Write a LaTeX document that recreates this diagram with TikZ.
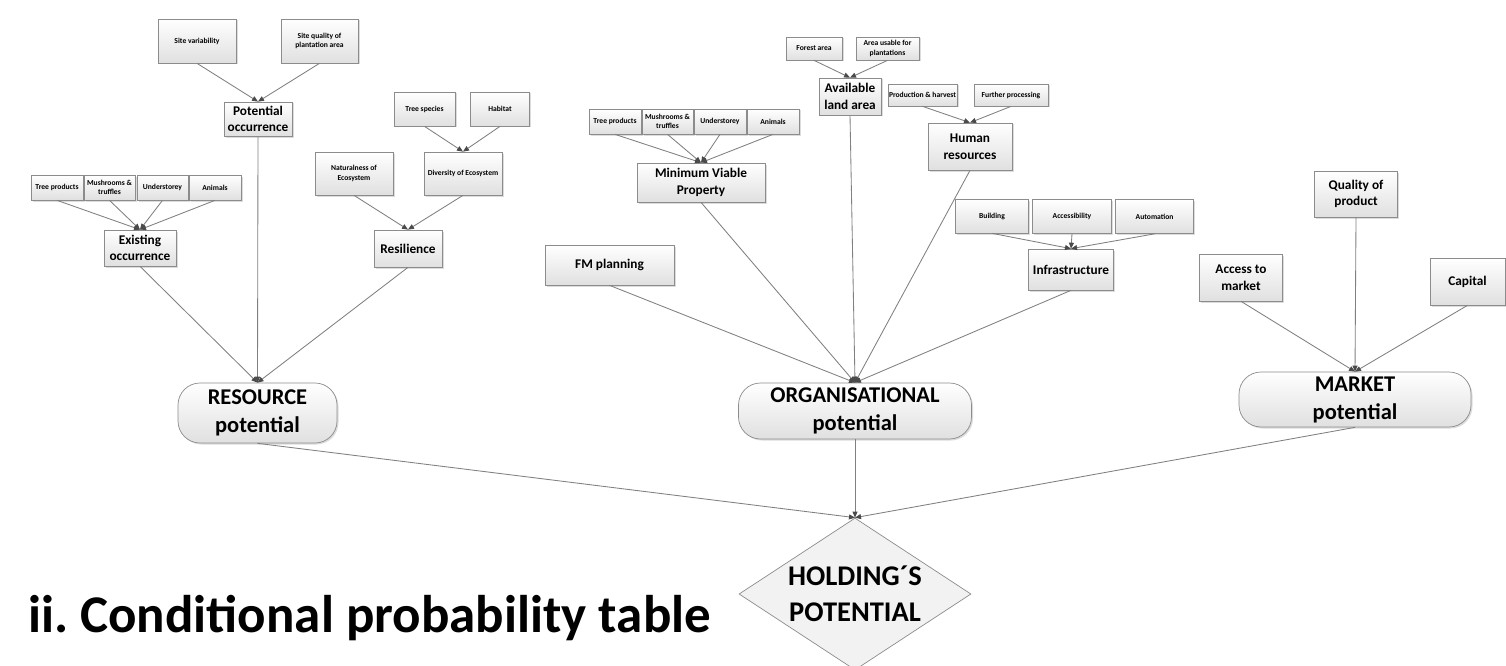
\documentclass[tikz,border=0pt]{standalone}
\usepackage{fontspec}
\setmainfont{Carlito}
\usetikzlibrary{arrows.meta,shapes.geometric,shadows}
\definecolor{boxline}{HTML}{8C8C8C}
\definecolor{boxbot}{HTML}{E0E0E0}
\definecolor{linegray}{HTML}{808080}
\definecolor{tipgray}{HTML}{4A4A4A}
\definecolor{diafill}{HTML}{F2F2F2}
\frenchspacing
\begin{document}
\begin{tikzpicture}[x=1pt,y=-1pt,
  box/.style={draw=boxline, line width=0.7pt, top color=white, bottom color=boxbot,
    drop shadow={shadow xshift=1.5pt, shadow yshift=-1.5pt, opacity=0.3, fill=black!45},
    inner sep=1pt, align=center},
  sbox/.style={box, font=\fontsize{7.6}{9.5}\selectfont\bfseries},
  mbox/.style={box, font=\fontsize{13.3}{16.5}\selectfont\bfseries},
  pot/.style={box, rounded corners=22pt, font=\fontsize{22.5}{28}\selectfont\bfseries},
  link/.style={draw=linegray, line width=0.85pt, -{Triangle[length=6pt,width=5pt,color=tipgray,fill=tipgray]}}
]
\fill[white] (0,0) rectangle (1506,666);
\useasboundingbox (0,0) rectangle (1506,666);

% ---------- RESOURCE branch ----------
\node[sbox, minimum width=78pt, minimum height=44pt] (sv) at (197,41) {Site variability};
\node[sbox, minimum width=77pt, minimum height=44pt] (sq) at (319.5,41) {Site quality of\\plantation area};
\node[mbox, minimum width=68pt, minimum height=34pt] (po) at (258,119) {Potential\\occurrence};

\node[sbox, minimum width=61pt, minimum height=34pt] (ts) at (424.5,109) {Tree species};
\node[sbox, minimum width=59pt, minimum height=34pt] (hab) at (500,109) {Habitat};
\node[sbox, minimum width=78pt, minimum height=43pt] (nat) at (354,173.5) {Naturalness of\\Ecosystem};
\node[sbox, minimum width=78pt, minimum height=43pt] (div) at (463,173.5) {Diversity of Ecosystem};
\node[mbox, minimum width=68pt, minimum height=37pt] (re) at (408,248.5) {Resilience};

\node[sbox, minimum width=52pt, minimum height=25pt] (tpa) at (57,187.5) {Tree products};
\node[sbox, minimum width=51pt, minimum height=25pt] (mua) at (109.5,187.5) {Mushrooms \&\\truffles};
\node[sbox, minimum width=51pt, minimum height=25pt] (una) at (162.5,187.5) {Understorey};
\node[sbox, minimum width=52pt, minimum height=25pt] (ana) at (215,187.5) {Animals};
\node[mbox, minimum width=72pt, minimum height=36pt] (eo) at (140,248) {Existing\\occurrence};

\node[pot, minimum width=159pt, minimum height=60pt] (rp) at (257.5,413) {RESOURCE\\potential};

% ---------- ORGANISATIONAL branch ----------
\node[sbox, minimum width=56pt, minimum height=23pt] (fa) at (814,48.5) {Forest area};
\node[sbox, minimum width=63pt, minimum height=23pt] (au) at (887.5,48.5) {Area usable for\\plantations};
\node[mbox, minimum width=62pt, minimum height=37pt] (al) at (850,96.5) {Available\\land area};

\node[sbox, minimum width=65pt, minimum height=22pt] (ph) at (922.5,95) {Production \& harvest};
\node[sbox, minimum width=74pt, minimum height=22pt] (fp) at (1011,95) {Further processing};
\node[mbox, minimum width=84pt, minimum height=47pt] (hr) at (970,146.5) {Human\\resources};

\node[sbox, minimum width=52pt, minimum height=25pt] (tpb) at (615,121.5) {Tree products};
\node[sbox, minimum width=51pt, minimum height=25pt] (mub) at (667.5,121.5) {Mushrooms \&\\truffles};
\node[sbox, minimum width=52pt, minimum height=25pt] (unb) at (720,121.5) {Understorey};
\node[sbox, minimum width=52pt, minimum height=25pt] (anb) at (773,121.5) {Animals};
\node[mbox, minimum width=128pt, minimum height=39pt] (mvp) at (701,182.5) {Minimum Viable\\Property};

\node[mbox, minimum width=129pt, minimum height=40pt] (fm) at (609.5,265) {FM planning};

\node[sbox, minimum width=73pt, minimum height=34pt] (bu) at (992,216) {Building};
\node[sbox, minimum width=79pt, minimum height=34pt] (acc) at (1072,216.5) {Accessibility};
\node[sbox, minimum width=78pt, minimum height=34pt] (aut) at (1154.6,216.5) {Automation};
\node[mbox, minimum width=85pt, minimum height=41pt] (inf) at (1071,269.5) {Infrastructure};

\node[pot, minimum width=233pt, minimum height=56pt] (op) at (855,411) {ORGANISATIONAL\\potential};

% ---------- MARKET branch ----------
\node[mbox, minimum width=83pt, minimum height=46pt] (qp) at (1356,194) {Quality of\\product};
\node[mbox, minimum width=83pt, minimum height=47pt] (atm) at (1241,277.5) {Access to\\market};
\node[mbox, minimum width=75pt, minimum height=47pt] (cap) at (1467.5,281.5) {Capital};
\node[pot, minimum width=232pt, minimum height=55pt] (mp) at (1355,399.5) {MARKET\\potential};

% ---------- HOLDING ----------
\node[diamond, aspect=1.5, inner sep=0pt, draw=boxline, fill=diafill, line width=0.7pt,
  minimum width=232pt, minimum height=152pt, align=center,
  font=\fontsize{28.5}{36}\selectfont\bfseries] (hp) at (855,594) {HOLDING´S\\POTENTIAL};

\node[anchor=base west, inner sep=0pt, font=\fontsize{53}{60}\selectfont\bfseries] (title) at (28,632) {ii. Conditional probability table};

% ---------- connectors ----------
\draw[link] (sv.south) -- (po.north);
\draw[link] (sq.south) -- (po.north);
\draw[link] (ts.south) -- (div.north);
\draw[link] (hab.south) -- (div.north);
\draw[link] (nat.south) -- (re.north);
\draw[link] (div.south) -- (re.north);
\draw[link] (tpa.south) -- (eo.north);
\draw[link] (mua.south) -- (eo.north);
\draw[link] (una.south) -- (eo.north);
\draw[link] (ana.south) -- (eo.north);
\draw[link] (eo.south) -- (rp.north);
\draw[link] (po.south) -- (rp.north);
\draw[link] (re.south) -- (rp.north);

\draw[link] (fa.south) -- (al.north);
\draw[link] (au.south) -- (al.north);
\draw[link] (ph.south) -- (hr.north);
\draw[link] (fp.south) -- (hr.north);
\draw[link] (tpb.south) -- (mvp.north);
\draw[link] (mub.south) -- (mvp.north);
\draw[link] (unb.south) -- (mvp.north);
\draw[link] (anb.south) -- (mvp.north);
\draw[link] (bu.south) -- (inf.north);
\draw[link] (acc.south) -- (inf.north);
\draw[link] (aut.south) -- (inf.north);
\draw[link] (fm.south) -- (op.north);
\draw[link] (mvp.south) -- (op.north);
\draw[link] (al.south) -- (op.north);
\draw[link] (hr.south) -- (op.north);
\draw[link] (inf.south) -- (op.north);

\draw[link] (atm.south) -- (mp.north);
\draw[link] (qp.south) -- (mp.north);
\draw[link] (cap.south) -- (mp.north);

\draw[link] (rp.south) -- (hp.north);
\draw[link] (op.south) -- (hp.north);
\draw[link] (mp.south) -- (hp.north);
\end{tikzpicture}
\end{document}
